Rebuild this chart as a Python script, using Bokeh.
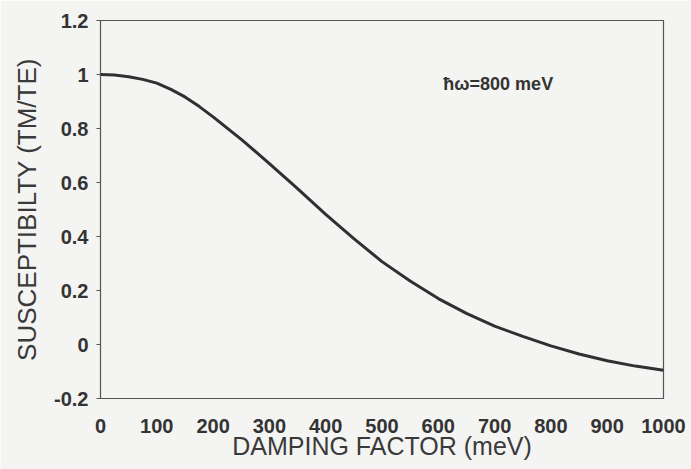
from bokeh.plotting import figure
from bokeh.models import Range1d, FixedTicker, ColumnDataSource
from bokeh.core.properties import value
from bokeh.embed import file_html
from bokeh.resources import INLINE

# Data
damping = [0, 25, 50, 75, 100, 125, 150, 175, 200, 250, 300, 350, 400, 450, 500,
           550, 600, 650, 700, 750, 800, 850, 900, 950, 1000]
suscept = [1.0, 0.998, 0.992, 0.982, 0.968, 0.945, 0.917, 0.882, 0.843, 0.76, 0.67,
           0.577, 0.482, 0.392, 0.307, 0.235, 0.17, 0.115, 0.068, 0.03, -0.005,
           -0.035, -0.06, -0.08, -0.095]

x_ticks = [0, 100, 200, 300, 400, 500, 600, 700, 800, 900, 1000]
y_ticks = [-0.2, 0, 0.2, 0.4, 0.6, 0.8, 1.0, 1.2]
y_tick_labels = ["-0.2", "0", "0.2", "0.4", "0.6", "0.8", "1", "1.2"]

note_x = [609]
note_y = [0.963]
note_text = ["ħω=800 meV"]

BG = "#f4f4f2"
FONT = "Liberation Sans"

p = figure(width=691, height=469, output_backend="svg", toolbar_location=None,
           x_range=Range1d(0, 1000), y_range=Range1d(-0.2, 1.2),
           min_border_left=100, min_border_right=28, min_border_top=20, min_border_bottom=71)
p.background_fill_color = BG
p.border_fill_color = BG
p.outline_line_color = "#555555"
p.outline_line_width = 1.2
p.grid.visible = False

p.line(damping, suscept, line_color="#303030", line_width=3)

src = ColumnDataSource(dict(x=note_x, y=note_y, t=note_text))
p.text(x="x", y="y", text="t", source=src, text_font=value(FONT), text_font_style="bold",
       text_font_size="18px", text_color="#333333", text_align="left", text_baseline="middle")

p.xaxis.ticker = FixedTicker(ticks=x_ticks)
p.yaxis.ticker = FixedTicker(ticks=y_ticks)
p.yaxis.major_label_overrides = {t: l for t, l in zip(y_ticks, y_tick_labels)}

for ax in (p.xaxis, p.yaxis):
    ax.axis_line_color = "#555555"
    ax.major_tick_line_color = "#555555"
    ax.minor_tick_line_color = None
    ax.major_tick_in = 0
    ax.major_label_text_font = FONT
    ax.major_label_text_font_style = "bold"
    ax.major_label_text_font_size = "20px"
    ax.major_label_text_color = "#333333"
    ax.axis_label_text_font = FONT
    ax.axis_label_text_font_style = "normal"
    ax.axis_label_text_color = "#3a3a3a"

p.xaxis.axis_label_text_font_size = "25px"
p.yaxis.axis_label_text_font_size = "26px"

p.xaxis.major_tick_out = 0
p.xaxis.major_label_standoff = 20
p.yaxis.major_tick_out = 4
p.yaxis.major_label_standoff = 8

p.xaxis.axis_label = "DAMPING FACTOR (meV)"
p.yaxis.axis_label = "SUSCEPTIBILTY (TM/TE)"
p.xaxis.axis_label_standoff = -4
p.yaxis.axis_label_standoff = 9

open("out.html", "w").write(file_html(p, INLINE))
